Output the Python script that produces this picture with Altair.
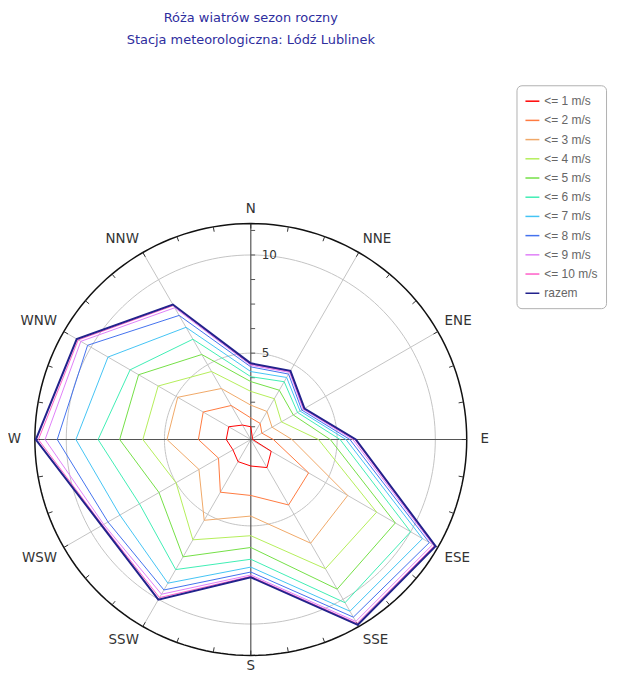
import math
import altair as alt
import pandas as pd

# ---------------- data ----------------
directions = ["N", "NNE", "ENE", "E", "ESE", "SSE", "S", "SSW", "WSW", "W", "WNW", "NNW"]
series_names = ["<= 1 m/s", "<= 2 m/s", "<= 3 m/s", "<= 4 m/s", "<= 5 m/s",
                "<= 6 m/s", "<= 7 m/s", "<= 8 m/s", "<= 9 m/s", "<= 10 m/s", "razem"]
series_colors = ["#ff0000", "#ff7a40", "#f0a868", "#b4ee5a", "#74e046",
                 "#40eeb4", "#44c4f4", "#4472ee", "#e080f8", "#ff5ec8", "#22228c"]

le1 = [1.25, 0.75, 0.70, 0.70, 1.80, 2.25, 1.95, 1.90, 1.65, 1.85, 1.90, 1.45]
le2 = [1.70, 1.55, 1.25, 1.75, 4.00, 4.45, 3.45, 3.70, 2.50, 3.27, 3.40, 2.60]
le3 = [2.35, 2.25, 1.85, 2.70, 6.30, 6.70, 4.50, 5.35, 3.65, 4.87, 4.90, 3.60]
le4 = [3.05, 3.00, 2.40, 4.05, 8.00, 8.20, 5.50, 6.50, 5.00, 6.10, 6.05, 4.60]
le5 = [3.55, 3.50, 3.10, 4.65, 9.10, 9.40, 6.10, 7.50, 6.00, 7.28, 7.20, 5.60]
le6 = [3.80, 4.00, 3.35, 5.15, 10.00, 10.20, 6.70, 8.25, 7.15, 8.38, 7.70, 6.50]
le7 = [4.06, 4.25, 3.50, 5.45, 10.70, 10.70, 7.10, 9.05, 8.30, 9.51, 9.00, 7.20]
le8 = [4.30, 4.45, 3.60, 5.65, 11.10, 11.05, 7.35, 9.45, 9.00, 10.46, 10.20, 7.90]
le9 = [4.38, 4.55, 3.68, 5.80, 11.30, 11.30, 7.50, 9.70, 9.25, 11.08, 10.60, 8.35]
le10 = [4.44, 4.60, 3.72, 5.90, 11.40, 11.42, 7.57, 9.90, 9.32, 11.42, 10.75, 8.48]
razem = [4.48, 4.64, 3.76, 5.95, 11.47, 11.50, 7.62, 10.02, 9.37, 11.55, 10.84, 8.54]
series_values = [le1, le2, le3, le4, le5, le6, le7, le8, le9, le10, razem]

grid_values = [5, 10]
grid_labels = ["5", "10"]
radial_ticks = [1.25, 2.5, 3.75, 6.25, 7.5, 8.75, 11.25]
axis_min = 0.6
axis_max = 11.6
label_radius = 11.4 + axis_min

title_lines = ["Róża wiatrów sezon roczny", "Stacja meteorologiczna: Lódź Lublinek"]

# ---------------- helpers ----------------
R = axis_max - axis_min


def pol(v, deg):
    r = max(v - axis_min, 0.0)
    a = math.radians(deg)
    return r * math.sin(a), r * math.cos(a)


X = lambda f="x": alt.X(f"{f}:Q", scale=alt.Scale(domain=[-R, R], nice=False, zero=False), axis=None)
Y = lambda f="y": alt.Y(f"{f}:Q", scale=alt.Scale(domain=[-R, R], nice=False, zero=False), axis=None)

# grid circles
rows = []
for g in grid_values:
    for k in range(0, 361, 2):
        x, y = pol(g, k)
        rows.append({"c": str(g), "k": k, "x": x, "y": y})
grid_df = pd.DataFrame(rows)
grid = alt.Chart(grid_df).mark_line(color="#c4c4c4", strokeWidth=1).encode(
    x=X(), y=Y(), detail="c:N", order="k:Q")

# outer circle
rows = []
for k in range(0, 361, 2):
    x, y = pol(axis_max, k)
    rows.append({"k": k, "x": x, "y": y})
outer = alt.Chart(pd.DataFrame(rows)).mark_line(color="#111111", strokeWidth=1.5).encode(
    x=X(), y=Y(), order="k:Q")

# outer ticks every 10 degrees
rows = []
for k in range(0, 360, 10):
    x, y = pol(axis_max, k)
    x2, y2 = pol(axis_max - 0.25, k)
    rows.append({"x": x, "y": y, "x2": x2, "y2": y2})
oticks = alt.Chart(pd.DataFrame(rows)).mark_rule(color="#333333", strokeWidth=1).encode(
    x=X(), y=Y(), x2="x2:Q", y2="y2:Q")

# spokes
rows = []
for i, d in enumerate(directions):
    if i % 3 == 0:
        continue
    x, y = pol(axis_max, i * 30)
    rows.append({"x": 0.0, "y": 0.0, "x2": x, "y2": y})
spokes = alt.Chart(pd.DataFrame(rows)).mark_rule(color="#c4c4c4", strokeWidth=1).encode(
    x=X(), y=Y(), x2="x2:Q", y2="y2:Q")

# main axes
axes_df = pd.DataFrame([
    {"x": 0.0, "y": -R, "x2": 0.0, "y2": R},
    {"x": -R, "y": 0.0, "x2": R, "y2": 0.0},
])
main_axes = alt.Chart(axes_df).mark_rule(color="#555555", strokeWidth=1.2).encode(
    x=X(), y=Y(), x2="x2:Q", y2="y2:Q")

# radial minor ticks on N axis
rows = []
for t in radial_ticks + grid_values:
    rows.append({"x": 0.0, "y": t - axis_min, "x2": 0.22, "y2": t - axis_min})
rticks = alt.Chart(pd.DataFrame(rows)).mark_rule(color="#555555", strokeWidth=1).encode(
    x=X(), y=Y(), x2="x2:Q", y2="y2:Q")

# radial labels
lab_df = pd.DataFrame({"x": [0.0] * len(grid_values),
                       "y": [g - axis_min for g in grid_values],
                       "t": grid_labels})
rlabels = alt.Chart(lab_df).mark_text(align="left", baseline="middle", dx=11, fontSize=12,
                                       font="DejaVu Sans", color="#333333").encode(
    x=X(), y=Y(), text="t:N")

# direction labels (alignment depends on the side of the rose)
rows = []
for i, d in enumerate(directions):
    deg = i * 30
    x, y = pol(label_radius, deg)
    s = round(math.sin(math.radians(deg)), 3)
    c = round(math.cos(math.radians(deg)), 3)
    align = "center" if s == 0 else ("left" if s > 0 else "right")
    base = "middle" if c == 0 else ("bottom" if c > 0 else "top")
    rows.append({"x": x, "y": y, "t": d, "grp": f"{align}|{base}"})
dl_df = pd.DataFrame(rows)
nudge = {"left|middle": (6, 0), "right|middle": (-6, 0), "center|top": (0, -4)}
dlayers = []
for grp in sorted(dl_df["grp"].unique()):
    al, bl = grp.split("|")
    ddx, ddy = nudge.get(grp, (0, 0))
    dlayers.append(
        alt.Chart(dl_df[dl_df["grp"] == grp]).mark_text(
            align=al, baseline=bl, dx=ddx, dy=ddy, fontSize=13.5, font="DejaVu Sans", color="#333333"
        ).encode(x=X(), y=Y(), text="t:N")
    )

# series polygons
rows = []
for s, (name, vals) in enumerate(zip(series_names, series_values)):
    for j in range(len(directions) + 1):
        i = j % len(directions)
        x, y = pol(vals[i], i * 30)
        rows.append({"series": name, "o": j, "x": x, "y": y,
                     "sw": 2.0 if name == "razem" else 1.0, "z": s})
poly_df = pd.DataFrame(rows)
polys = alt.Chart(poly_df).mark_line().encode(
    x=X(), y=Y(),
    color=alt.Color("series:N", scale=alt.Scale(domain=series_names, range=series_colors),
                    legend=alt.Legend(title=None, orient="none", legendX=484, legendY=-139,
                                      symbolType="stroke", symbolSize=196, symbolStrokeWidth=1.5,
                                      labelFontSize=12, labelFont="Liberation Sans",
                                      labelColor="#666666", rowPadding=5.3,
                                      strokeColor="#b0b0b0", cornerRadius=5, padding=8,
                                      fillColor="white")),
    strokeWidth=alt.StrokeWidth("sw:Q", scale=None, legend=None),
    order="o:Q",
    detail="series:N",
)

chart = alt.layer(grid, spokes, main_axes, rticks, outer, oticks, polys, rlabels, *dlayers).properties(
    width=434, height=434,
    autosize=alt.AutoSizeParams(type="none"),
    padding={"left": 27, "top": 215, "right": 150, "bottom": 18},
    title=alt.TitleParams(title_lines, fontSize=13, font="DejaVu Sans", fontWeight="normal",
                          color="#2e2e9e", anchor="middle", frame="group", offset=38,
                          lineHeight=22),
).configure_view(stroke=None)

chart.save("out.html", embed_options={"renderer": "svg", "actions": False})
